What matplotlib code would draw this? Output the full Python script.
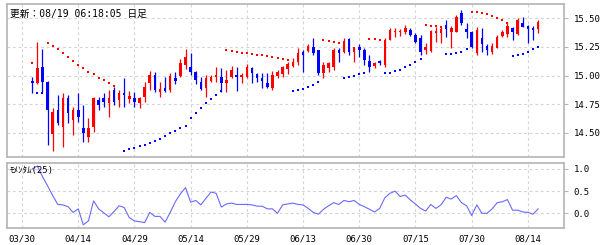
import numpy as np
import matplotlib
matplotlib.use("Agg")
import matplotlib.pyplot as plt

# bar index positions (index 0 = 03/30), candles run from idx 2 to idx 101
tick_labels = ["03/30", "04/14", "04/29", "05/14", "05/29", "06/13", "06/30", "07/15", "07/30", "08/14"]
first_idx = 2

opens = [14.952, 14.932, 15.077, 14.946, 14.489, 14.698, 14.552, 14.801, 14.611, 14.698,
         14.538, 14.460, 14.552, 14.786, 14.801, 14.757, 14.873, 14.786, 14.844, 14.792,
         14.801, 14.757, 14.809, 14.932, 15.004, 14.858, 14.888, 14.873, 14.976, 14.996,
         15.092, 15.072, 15.033, 14.946, 14.888, 14.955, 14.984, 14.990, 14.932, 14.990,
         15.004, 14.984, 14.990, 15.063, 15.013, 14.976, 14.937, 14.888, 14.996, 15.013,
         15.054, 15.086, 15.115, 15.208, 15.214, 15.252, 15.223, 15.019, 15.063, 15.077,
         15.223, 15.208, 15.316, 15.208, 15.252, 15.223, 15.127, 15.083, 15.127, 15.092,
         15.310, 15.378, 15.378, 15.378, 15.398, 15.354, 15.325, 15.223, 15.214, 15.369,
         15.369, 15.441, 15.383, 15.383, 15.544, 15.407, 15.383, 15.194, 15.325, 15.260,
         15.208, 15.243, 15.345, 15.360, 15.413, 15.360, 15.456, 15.435, 15.418, 15.407]
highs = [14.990, 15.296, 15.229, 14.955, 14.720, 14.830, 14.845, 14.830, 14.727, 14.845,
         14.742, 14.626, 14.815, 14.810, 14.845, 14.873, 14.902, 14.873, 14.975, 14.867,
         14.858, 14.810, 14.946, 15.042, 15.033, 14.946, 14.990, 15.025, 15.033, 15.142,
         15.229, 15.194, 15.042, 14.990, 15.004, 15.004, 15.072, 15.063, 15.048, 15.083,
         15.072, 15.019, 15.101, 15.072, 15.019, 15.019, 15.019, 15.042, 15.048, 15.083,
         15.121, 15.150, 15.238, 15.223, 15.273, 15.325, 15.223, 15.121, 15.121, 15.238,
         15.238, 15.325, 15.325, 15.252, 15.273, 15.238, 15.179, 15.121, 15.136, 15.325,
         15.413, 15.413, 15.407, 15.441, 15.413, 15.369, 15.354, 15.281, 15.398, 15.427,
         15.427, 15.485, 15.435, 15.529, 15.573, 15.456, 15.389, 15.427, 15.418, 15.273,
         15.281, 15.354, 15.398, 15.456, 15.427, 15.500, 15.514, 15.441, 15.435, 15.485]
lows = [14.850, 14.926, 14.858, 14.393, 14.343, 14.567, 14.378, 14.582, 14.480, 14.596,
        14.421, 14.421, 14.509, 14.700, 14.727, 14.640, 14.742, 14.727, 14.727, 14.757,
        14.727, 14.713, 14.771, 14.873, 14.858, 14.809, 14.858, 14.858, 14.925, 14.990,
        15.054, 15.004, 14.925, 14.873, 14.809, 14.946, 14.946, 14.858, 14.858, 14.976,
        14.867, 14.932, 14.976, 14.937, 14.946, 14.888, 14.888, 14.873, 14.976, 14.990,
        15.013, 15.077, 15.092, 15.033, 15.208, 15.179, 15.004, 14.976, 15.033, 15.048,
        15.121, 15.194, 15.179, 15.121, 15.164, 15.092, 15.033, 15.063, 15.092, 15.077,
        15.310, 15.339, 15.348, 15.360, 15.348, 15.281, 15.179, 15.185, 15.208, 15.296,
        15.281, 15.339, 15.238, 15.383, 15.441, 15.325, 15.238, 15.179, 15.208, 15.179,
        15.185, 15.238, 15.339, 15.339, 15.310, 15.354, 15.427, 15.281, 15.310, 15.369]
closes = [14.932, 15.063, 14.946, 14.698, 14.678, 14.582, 14.801, 14.670, 14.698, 14.640,
          14.500, 14.538, 14.801, 14.742, 14.771, 14.801, 14.771, 14.844, 14.830, 14.821,
          14.766, 14.801, 14.897, 15.004, 14.873, 14.879, 14.867, 14.996, 14.955, 15.112,
          15.164, 15.033, 14.961, 14.879, 14.976, 14.990, 15.004, 14.937, 14.961, 15.048,
          14.984, 15.004, 15.072, 15.019, 14.976, 14.955, 14.897, 15.004, 15.033, 15.072,
          15.101, 15.121, 15.194, 15.179, 15.260, 15.194, 15.019, 15.092, 15.107, 15.223,
          15.194, 15.301, 15.208, 15.252, 15.223, 15.136, 15.077, 15.107, 15.107, 15.310,
          15.398, 15.389, 15.389, 15.418, 15.354, 15.296, 15.208, 15.252, 15.389, 15.389,
          15.407, 15.407, 15.413, 15.514, 15.456, 15.378, 15.252, 15.398, 15.273, 15.223,
          15.260, 15.339, 15.383, 15.435, 15.378, 15.485, 15.427, 15.407, 15.398, 15.465]

# parabolic SAR (None = no dot)
sar = [15.107, 14.844, 14.844,
       15.281, 15.261, 15.229, 15.194, 15.159, 15.127, 15.092, 15.068, 15.033, 15.011,
       14.981, 14.958, 14.932, 14.908,
       None,
       14.343, 14.358, 14.369, 14.381, 14.395, 14.413, 14.427, 14.448, 14.469, 14.495,
       14.515, 14.539, 14.561, 14.626, 14.675, 14.719, 14.757, 14.795, 14.830, 14.862,
       15.220, 15.214, 15.205, 15.199, 15.194, 15.188, 15.182, 15.177, 15.168, 15.162,
       15.153, 15.144, 15.138,
       14.862, 14.871, 14.882, 14.897, 14.917, 14.946,
       15.313, 15.304, 15.295, 15.287,
       14.976, 14.983, 14.994, 15.009, 15.024,
       15.322, 15.316, 15.308,
       15.022, 15.026, 15.039, 15.051, 15.072, 15.089, 15.115, 15.144,
       15.441, 15.435, 15.430, 15.424,
       15.186, 15.192, 15.198, 15.207, 15.229,
       15.559, 15.553, 15.545, 15.535, 15.522, 15.504, 15.485, 15.463,
       15.173, 15.177, 15.186, 15.205, 15.229, 15.247]

momentum = [1.00, 1.07, 0.83, 0.62, 0.40, 0.20, 0.19, 0.15, 0.02, 0.10,
            -0.26, -0.17, 0.28, 0.10, 0.01, -0.08, 0.04, 0.17, 0.13, -0.10,
            -0.17, -0.19, -0.21, 0.02, -0.07, -0.07, -0.20, 0.02, 0.26, 0.44,
            0.58, 0.25, 0.29, 0.19, 0.34, 0.48, 0.45, 0.14, 0.21, 0.23,
            0.20, 0.20, 0.20, 0.19, 0.16, 0.16, 0.10, 0.10, 0.00, 0.19,
            0.21, 0.23, 0.20, 0.19, 0.11, 0.02, -0.02, 0.09, 0.17, 0.24,
            0.20, 0.29, 0.26, 0.29, 0.20, 0.15, 0.09, 0.03, 0.11, 0.35,
            0.45, 0.50, 0.38, 0.41, 0.30, 0.21, 0.11, 0.05, 0.20, 0.11,
            0.19, 0.36, 0.32, 0.40, 0.24, 0.17, -0.05, 0.19, 0.00, 0.00,
            0.10, 0.24, 0.26, 0.31, 0.07, 0.07, 0.03, 0.02, -0.02, 0.10]

RED = "#ff0000"
BLUE = "#0000ff"
GRID = "#d4d4d4"
EDGE = "#b4b4b4"
mono = ["DejaVu Sans Mono", "Noto Sans CJK JP"]

x = np.arange(len(opens)) + first_idx
o = np.array(opens); h = np.array(highs); l = np.array(lows); c = np.array(closes)
up = c >= o
colors = np.where(up, RED, BLUE)

fig = plt.figure(figsize=(6, 2.45), dpi=100)
ax = fig.add_axes([7 / 600, 1 - 157 / 245, 557 / 600, 153 / 245])
ax2 = fig.add_axes([7 / 600, 1 - 228 / 245, 557 / 600, 65 / 245])

xt = np.arange(len(tick_labels)) * 11

# candles
ax.vlines(x, l, h, colors=colors, linewidth=0.9, zorder=3)
body_lo = np.minimum(o, c)
body_h = np.maximum(np.abs(c - o), 0.008)
ax.bar(x, body_h, bottom=body_lo, width=0.5, color=colors, linewidth=0, zorder=4)

# SAR dots
for xi, s, ci in zip(x, sar, c):
    if s is None:
        continue
    ax.scatter(xi, s, s=0.9, marker="s", color=RED if s > ci else BLUE,
               linewidths=0, zorder=5)

ax.set_ylim(14.288, 15.625)
ax.set_yticks([14.50, 14.75, 15.00, 15.25, 15.50])
ax.yaxis.set_major_formatter(matplotlib.ticker.FormatStrFormatter("%.2f"))
ax.text(0.006, 0.97, "更新：08/19 06:18:05 日足", transform=ax.transAxes,
        ha="left", va="top", fontsize=7, family=mono, zorder=6)

# momentum
ax2.plot(x, momentum, color="#6a6aff", linewidth=0.8, zorder=3)
ax2.set_ylim(-0.332, 1.135)
ax2.set_yticks([0.0, 0.5, 1.0])
ax2.yaxis.set_major_formatter(matplotlib.ticker.FormatStrFormatter("%.1f"))
ax2.text(0.005, 0.95, "ﾓﾒﾝﾀﾑ(25)", transform=ax2.transAxes,
         ha="left", va="top", fontsize=6.5, family=mono, zorder=6)

for a in (ax, ax2):
    a.set_xlim(-2.94, 106.07)
    a.set_xticks(xt)
    a.grid(True, color=GRID, linestyle=(0, (2.5, 2.5)), linewidth=0.8, zorder=0)
    a.set_axisbelow(True)
    a.yaxis.tick_right()
    a.tick_params(axis="y", length=3, width=0.8, color=EDGE, pad=4, labelsize=6.5)
    a.tick_params(axis="x", length=0, labelsize=6.5, pad=5)
    for lab in a.get_yticklabels() + a.get_xticklabels():
        lab.set_family("DejaVu Sans Mono")
    for sp in a.spines.values():
        sp.set_color(EDGE)
        sp.set_linewidth(1.2)

ax.set_xticklabels([])
ax2.set_xticklabels(tick_labels, family="DejaVu Sans Mono")

fig.savefig("out.png", dpi=100, facecolor="white")
